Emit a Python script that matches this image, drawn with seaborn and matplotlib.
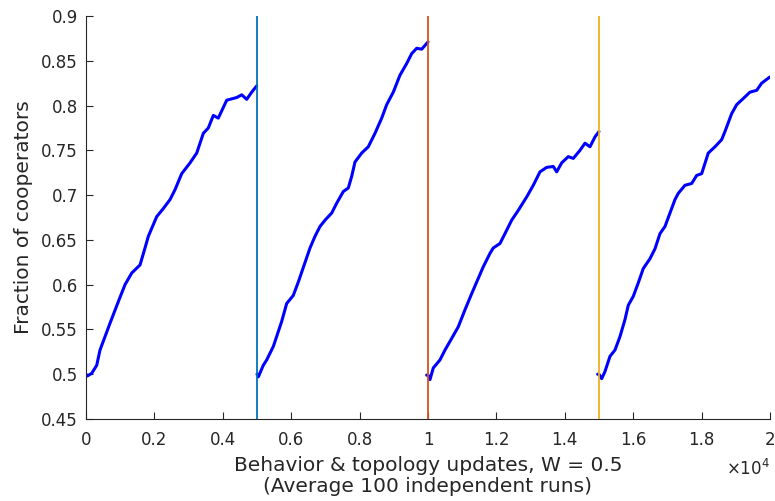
import numpy as np
import pandas as pd
import matplotlib
matplotlib.use("Agg")
import matplotlib.pyplot as plt
import seaborn as sns

# Values (4 phases of 5000 updates each)
x1 = [0, 38, 167, 313, 409, 702, 944, 1140, 1336, 1579, 1725, 1822, 2067, 2260, 2456,
      2602, 2798, 3041, 3237, 3430, 3576, 3722, 3868, 4114, 4406, 4553, 4699, 4845, 4991]
y1 = [0.500, 0.498, 0.501, 0.510, 0.527, 0.557, 0.581, 0.600, 0.613, 0.622, 0.641, 0.654,
      0.676, 0.685, 0.695, 0.706, 0.724, 0.736, 0.747, 0.769, 0.775, 0.789, 0.786, 0.806,
      0.809, 0.812, 0.807, 0.815, 0.822]

x2 = [5000, 5038, 5184, 5284, 5477, 5722, 5868, 6061, 6208, 6550, 6696, 6842, 6988, 7184,
      7330, 7523, 7670, 7769, 7865, 8061, 8254, 8450, 8646, 8792, 8985, 9181, 9377, 9523,
      9670, 9816, 10000]
y2 = [0.500, 0.497, 0.510, 0.516, 0.531, 0.559, 0.579, 0.588, 0.603, 0.641, 0.654, 0.665,
      0.672, 0.680, 0.691, 0.704, 0.708, 0.721, 0.737, 0.747, 0.754, 0.769, 0.786, 0.801,
      0.815, 0.834, 0.847, 0.858, 0.864, 0.863, 0.871]

x3 = [9960, 10000, 10058, 10155, 10351, 10497, 10693, 10886, 11082, 11278, 11424, 11617,
      11813, 11909, 12105, 12251, 12447, 12640, 12886, 13079, 13275, 13471, 13664, 13763,
      13909, 14102, 14249, 14444, 14591, 14737, 14883, 15000]
y3 = [0.499, 0.499, 0.494, 0.507, 0.516, 0.527, 0.540, 0.553, 0.572, 0.590, 0.603, 0.620,
      0.635, 0.641, 0.646, 0.657, 0.672, 0.683, 0.698, 0.711, 0.726, 0.731, 0.732, 0.726,
      0.736, 0.743, 0.741, 0.750, 0.758, 0.754, 0.765, 0.771]

x4 = [14960, 15000, 15079, 15175, 15322, 15468, 15614, 15760, 15857, 16003, 16149, 16295,
      16491, 16637, 16784, 16930, 17076, 17222, 17319, 17515, 17711, 17857, 18003, 18196,
      18392, 18588, 18684, 18880, 19026, 19222, 19415, 19611, 19757, 20000]
y4 = [0.500, 0.500, 0.495, 0.503, 0.520, 0.527, 0.542, 0.561, 0.577, 0.587, 0.602, 0.618,
      0.629, 0.640, 0.657, 0.665, 0.680, 0.695, 0.702, 0.711, 0.713, 0.722, 0.724, 0.747,
      0.754, 0.762, 0.771, 0.791, 0.801, 0.808, 0.815, 0.817, 0.825, 0.832]

phase_ends = [5000, 10000, 15000]
phase_colors = ["#0072BD", "#D95319", "#EDB120"]

xticks = [0, 2000, 4000, 6000, 8000, 10000, 12000, 14000, 16000, 18000, 20000]
xtick_labels = ["0", "0.2", "0.4", "0.6", "0.8", "1", "1.2", "1.4", "1.6", "1.8", "2"]
yticks = [0.45, 0.5, 0.55, 0.6, 0.65, 0.7, 0.75, 0.8, 0.85, 0.9]
ytick_labels = ["0.45", "0.5", "0.55", "0.6", "0.65", "0.7", "0.75", "0.8", "0.85", "0.9"]

frames = []
for i, (xs, ys) in enumerate([(x1, y1), (x2, y2), (x3, y3), (x4, y4)]):
    frames.append(pd.DataFrame({"updates": xs, "frac": ys, "phase": i}))
df = pd.concat(frames, ignore_index=True)

sns.set_style("ticks")
plt.rcParams["font.family"] = ["DejaVu Sans"]

fig = plt.figure(figsize=(7.75, 5.01), dpi=100)
ax = fig.add_axes([0.111, 0.1637, 0.8825, 0.8043])

sns.lineplot(data=df, x="updates", y="frac", units="phase", estimator=None,
             color="#0000FF", linewidth=2.2, ax=ax, legend=False)

for xe, c in zip(phase_ends, phase_colors):
    ax.axvline(xe, color=c, linewidth=1.3, zorder=3)

ax.set_xlim(0, 20000)
ax.set_ylim(0.45, 0.9)
ax.set_xticks(xticks)
ax.set_xticklabels(xtick_labels)
ax.set_yticks(yticks)
ax.set_yticklabels(ytick_labels)

text_color = "#262626"
ax.tick_params(direction="in", length=5, width=0.8, colors=text_color, labelsize=12)
ax.tick_params(axis="x", pad=9)
ax.tick_params(axis="y", pad=6)
for side in ["top", "right"]:
    ax.spines[side].set_visible(False)
for side in ["left", "bottom"]:
    ax.spines[side].set_color(text_color)
    ax.spines[side].set_linewidth(0.8)

ax.set_xlabel("Behavior & topology updates, W = 0.5\n(Average 100 independent runs)",
              fontsize=14.5, color=text_color, labelpad=5, linespacing=1.1)
ax.set_ylabel("Fraction of cooperators", fontsize=14.5, color=text_color, labelpad=6)

ax.text(1.0, -0.125, r"$\times10^4$", transform=ax.transAxes, ha="right", va="center",
        fontsize=12, color=text_color)

fig.savefig("out.png", dpi=100)
